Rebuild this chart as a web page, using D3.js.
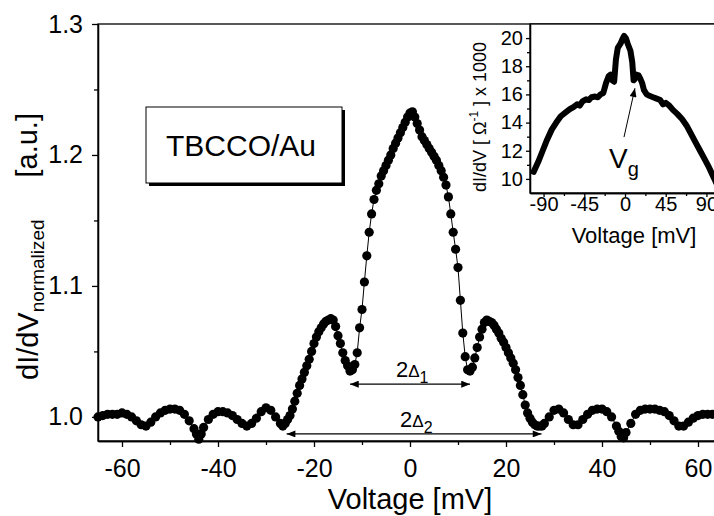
<!DOCTYPE html>
<html>
<head>
<meta charset="utf-8">
<script src="https://cdn.jsdelivr.net/npm/d3@7"></script>
<style>
  body { margin: 0; background: #fff; }
  svg { display: block; font-family: "Liberation Sans", Arial, sans-serif; }
</style>
</head>
<body>
<div id="chart"></div>
<script>
// main curve: normalized dI/dV vs voltage (mV)
const mainVoltage = [
  -65, -64, -63, -62, -61, -60, -59, -58, -57, -56, -55, -54, -53, -52, -51, -50,
  -49, -48, -47, -46, -45, -44.5, -44, -43.5, -43, -42, -41, -40, -39, -38, -37, -36,
  -35, -34, -33, -32, -31, -30, -29, -28,
  -27, -26.5, -26, -25.5, -25, -24.5, -24, -23.5, -23, -22.5, -22, -21.5, -21, -20.5,
  -20, -19.5, -19, -18.5, -18, -17.5, -17, -16.5, -16, -15.5, -15, -14.5, -14, -13.5,
  -13, -12.5, -12, -11.5, -11, -10.5, -10, -9.5, -9, -8.5, -8, -7.5, -7, -6.5,
  -6, -5.5, -5, -4.5, -4, -3.5, -3, -2.5, -2, -1.5, -1, -0.5, 0, 0.5,
  1, 1.5, 2, 2.5, 3, 3.5, 4, 4.5, 5, 5.5, 6, 6.5, 7, 7.5,
  8, 8.5, 9, 9.5, 10, 10.5, 11, 11.5, 12, 12.5, 13, 13.5, 14, 14.5,
  15, 15.5, 16, 16.5, 17, 17.5, 18, 18.5, 19, 19.5, 20, 20.5, 21, 21.5,
  22, 22.5, 23, 23.5, 24, 24.5, 25, 25.5, 26, 26.5, 27, 27.5,
  28, 29, 30, 31, 32, 33, 34, 35, 36, 37, 38, 39, 40, 41, 42, 43, 43.5,
  44, 44.5, 45, 46, 47, 48, 49, 50, 51, 52, 53, 54, 55, 56, 57, 58,
  59, 60, 61, 62, 63, 64, 65
];
const mainDidv = [
  1.000, 1.001, 1.002, 1.002, 1.002, 1.003, 1.002, 1.000, 0.997, 0.994, 0.993, 0.996, 1.000, 1.003, 1.005, 1.006,
  1.006, 1.005, 1.002, 0.997, 0.991, 0.987, 0.983, 0.987, 0.992, 0.998, 1.002, 1.004, 1.004, 1.003, 1.001, 0.998,
  0.995, 0.993, 0.995, 0.999, 1.004, 1.007, 1.005, 1.000,
  0.995, 0.993, 0.995, 0.998, 1.001, 1.006, 1.012, 1.018, 1.024, 1.029, 1.034, 1.039, 1.044, 1.050,
  1.056, 1.061, 1.065, 1.068, 1.071, 1.073, 1.074, 1.075, 1.074, 1.069, 1.062, 1.056, 1.049, 1.043,
  1.039, 1.035, 1.036, 1.040, 1.049, 1.068, 1.082, 1.103, 1.123, 1.141, 1.155, 1.166, 1.173, 1.178,
  1.184, 1.188, 1.192, 1.196, 1.200, 1.205, 1.209, 1.213, 1.217, 1.221, 1.225, 1.229, 1.232, 1.233,
  1.229, 1.224, 1.219, 1.214, 1.211, 1.208, 1.205, 1.202, 1.199, 1.196, 1.192, 1.188, 1.183, 1.177,
  1.168, 1.155, 1.141, 1.128, 1.114, 1.089, 1.064, 1.046, 1.036, 1.035, 1.038, 1.045, 1.053, 1.061,
  1.067, 1.072, 1.074, 1.073, 1.072, 1.070, 1.067, 1.064, 1.060, 1.057, 1.053, 1.049, 1.045, 1.041,
  1.036, 1.030, 1.024, 1.017, 1.009, 1.003, 0.999, 0.996, 0.994, 0.993, 0.993, 0.993,
  0.995, 1.000, 1.005, 1.006, 1.003, 0.998, 0.994, 0.994, 0.998, 1.002, 1.005, 1.006, 1.006, 1.004, 1.000, 0.993, 0.989,
  0.985, 0.984, 0.988, 0.995, 1.002, 1.005, 1.006, 1.006, 1.006, 1.005, 1.004, 1.001, 0.997, 0.993, 0.993, 0.996,
  0.999, 1.001, 1.002, 1.002, 1.002, 1.002, 1.002
];
const xTicks = [-60, -40, -20, 0, 20, 40, 60];
const xMinorTicks = [-50, -30, -10, 10, 30, 50];
const yTicks = [1.0, 1.1, 1.2, 1.3];
const yMinorTicks = [1.05, 1.15, 1.25];

// gap arrows (mV ends, level in normalized units)
const gapArrows = [
  {name: "1", from: -12.5, to: 12.5, level: 1.025},
  {name: "2", from: -25.7, to: 27.4, level: 0.987}
];

// inset: raw dI/dV x 1000 (1/Ohm) vs voltage
const insetVoltage = [
  -101, -96, -91, -86, -81, -76, -71, -66, -61, -57, -53, -50, -47, -43, -40, -37,
  -33, -30, -27, -24, -21, -18, -16, -14, -12, -10, -8, -5, -3, -1, 1, 3,
  6, 8, 9.5, 11, 13, 15, 17, 19, 21, 24, 27, 31, 35, 39, 42, 45,
  49, 53, 58, 63, 68, 73, 78, 83, 88, 93, 98, 101
];
const insetDidv = [
  10.5, 11.2, 12.0, 12.8, 13.5, 14.0, 14.45, 14.7, 14.95, 15.1, 15.3, 15.2, 15.5, 15.65, 15.6, 15.8,
  15.85, 15.8, 16.0, 16.1, 16.8, 17.3, 17.4, 17.0, 16.9, 18.5, 19.3, 19.6, 19.9, 20.15, 20.0, 19.6,
  19.1, 18.3, 17.0, 17.1, 17.4, 17.35, 17.1, 16.8, 16.3, 16.0, 15.9, 15.8, 15.7, 15.6, 15.3, 15.4,
  15.2, 14.9, 14.6, 14.25, 13.8, 13.2, 12.6, 12.0, 11.4, 10.8, 10.1, 9.7
];
const insetXTicks = [-90, -45, 0, 45, 90];
const insetXMinorTicks = [-67.5, -22.5, 22.5, 67.5];
const insetYTicks = [10, 12, 14, 16, 18, 20];
const insetYMinorTicks = [11, 13, 15, 17, 19];

const W = 714, H = 516;
const plain = d => String(d);   // hyphen minus, like the original plot

const svg = d3.select("#chart").append("svg")
    .attr("width", W)
    .attr("height", H);

const defs = svg.append("defs");
defs.append("marker")
    .attr("id", "head")
    .attr("viewBox", "0 0 10 8")
    .attr("refX", 10).attr("refY", 4)
    .attr("markerWidth", 10).attr("markerHeight", 7)
    .attr("markerUnits", "userSpaceOnUse")
    .attr("orient", "auto-start-reverse")
  .append("path")
    .attr("d", "M0,0 L10,4 L0,8 Z")
    .attr("fill", "#000");

// ---- main plot ----
const x = d3.scaleLinear().domain([-65, 65]).range([98, 722]);
const y = d3.scaleLinear().domain([0.9816, 1.3]).range([441, 24]);

const mainData = mainVoltage.map((v, i) => ({v: v, g: mainDidv[i]}));

function styleAxis(g) {
    g.selectAll("path").attr("stroke", "#000").attr("stroke-width", 1.3);
    g.selectAll("line").attr("stroke", "#000").attr("stroke-width", 1.3);
    g.selectAll("text").attr("fill", "#000");
}

// frame
svg.append("rect")
    .attr("x", x(-65)).attr("y", y(1.3))
    .attr("width", x(65) - x(-65)).attr("height", y(0.9816) - y(1.3))
    .attr("fill", "none").attr("stroke", "#000").attr("stroke-width", 1.3);

svg.append("g")
    .attr("transform", `translate(0,${y(0.9816)})`)
    .call(d3.axisBottom(x).tickValues(xTicks).tickSize(6).tickPadding(12).tickSizeOuter(0).tickFormat(plain))
    .call(g => g.attr("font-size", 25).attr("font-family", null))
    .call(styleAxis);
svg.append("g")
    .attr("transform", `translate(0,${y(0.9816)})`)
    .call(d3.axisBottom(x).tickValues(xMinorTicks).tickSize(4).tickFormat("").tickSizeOuter(0))
    .call(styleAxis);

svg.append("g")
    .attr("transform", `translate(${x(-65)},0)`)
    .call(d3.axisLeft(y).tickValues(yTicks).tickSize(6).tickPadding(9).tickSizeOuter(0).tickFormat(d3.format(".1f")))
    .call(g => g.attr("font-size", 25).attr("font-family", null))
    .call(styleAxis);
svg.append("g")
    .attr("transform", `translate(${x(-65)},0)`)
    .call(d3.axisLeft(y).tickValues(yMinorTicks).tickSize(4).tickFormat("").tickSizeOuter(0))
    .call(styleAxis);

// axis titles
svg.append("text")
    .attr("x", x(0)).attr("y", 509)
    .attr("text-anchor", "middle")
    .attr("font-size", 29)
    .text("Voltage [mV]");

const yTitle = svg.append("text")
    .attr("transform", "translate(38,380) rotate(-90)")
    .attr("font-size", 29);
yTitle.append("tspan").text("dI/dV");
yTitle.append("tspan").attr("font-size", 19).attr("dy", 6).text("normalized");
svg.append("text")
    .attr("transform", "translate(37,113) rotate(-90)")
    .attr("text-anchor", "end")
    .attr("font-size", 29)
    .text("[a.u.]");

// data: thin connecting line + dots
svg.append("path")
    .datum(mainData)
    .attr("fill", "none")
    .attr("stroke", "#000")
    .attr("stroke-width", 1)
    .attr("d", d3.line().x(d => x(d.v)).y(d => y(d.g)));

svg.selectAll(".dot")
    .data(mainData)
  .enter().append("circle")
    .attr("class", "dot")
    .attr("cx", d => x(d.v))
    .attr("cy", d => y(d.g))
    .attr("r", 4.6)
    .attr("fill", "#000");

// gap arrows with labels
gapArrows.forEach(a => {
    svg.append("line")
        .attr("x1", x(a.from)).attr("x2", x(a.to))
        .attr("y1", y(a.level)).attr("y2", y(a.level))
        .attr("stroke", "#000").attr("stroke-width", 1.2)
        .attr("marker-start", "url(#head)")
        .attr("marker-end", "url(#head)");
    const lbl = svg.append("text")
        .attr("x", x((a.from + a.to) / 2) - 14)
        .attr("y", y(a.level) - 7)
        .attr("font-size", 22);
    lbl.append("tspan").text("2");
    lbl.append("tspan").attr("font-size", 17).text("\u0394");
    lbl.append("tspan").attr("font-size", 16).attr("dy", 6).text(a.name);
});

// sample label box with shadow
svg.append("rect")
    .attr("x", 149).attr("y", 110).attr("width", 196).attr("height", 76)
    .attr("fill", "#000");
svg.append("rect")
    .attr("x", 146).attr("y", 107).attr("width", 196).attr("height", 76)
    .attr("fill", "#fff").attr("stroke", "#000").attr("stroke-width", 1);
svg.append("text")
    .attr("x", 166).attr("y", 156)
    .attr("font-size", 30)
    .text("TBCCO/Au");

// ---- inset ----
const ix = d3.scaleLinear().domain([-105, 105]).range([530, 720]);
const iy = d3.scaleLinear().domain([9, 21]).range([193, 24]);
const insetData = insetVoltage.map((v, i) => ({v: v, g: insetDidv[i]}));

svg.append("rect")
    .attr("x", ix(-105)).attr("y", iy(21))
    .attr("width", ix(105) - ix(-105)).attr("height", iy(9) - iy(21))
    .attr("fill", "#fff").attr("stroke", "#000").attr("stroke-width", 1.3);

svg.append("g")
    .attr("transform", `translate(0,${iy(9)})`)
    .call(d3.axisBottom(ix).tickValues(insetXTicks).tickSize(4).tickPadding(0).tickSizeOuter(0).tickFormat(plain))
    .call(g => g.attr("font-size", 20).attr("font-family", null))
    .call(styleAxis);
svg.append("g")
    .attr("transform", `translate(0,${iy(9)})`)
    .call(d3.axisBottom(ix).tickValues(insetXMinorTicks).tickSize(3).tickFormat("").tickSizeOuter(0))
    .call(styleAxis);
svg.append("g")
    .attr("transform", `translate(${ix(-105)},0)`)
    .call(d3.axisLeft(iy).tickValues(insetYTicks).tickSize(4).tickPadding(3).tickSizeOuter(0))
    .call(g => g.attr("font-size", 20).attr("font-family", null))
    .call(styleAxis);
svg.append("g")
    .attr("transform", `translate(${ix(-105)},0)`)
    .call(d3.axisLeft(iy).tickValues(insetYMinorTicks).tickSize(3).tickFormat("").tickSizeOuter(0))
    .call(styleAxis);

svg.append("path")
    .datum(insetData)
    .attr("fill", "none")
    .attr("stroke", "#000")
    .attr("stroke-width", 6)
    .attr("stroke-linejoin", "round")
    .attr("stroke-linecap", "round")
    .attr("d", d3.line().x(d => ix(d.v)).y(d => iy(d.g)));

svg.append("text")
    .attr("x", 634).attr("y", 243)
    .attr("text-anchor", "middle")
    .attr("font-size", 22)
    .text("Voltage [mV]");

const iyTitle = svg.append("text")
    .attr("transform", "translate(486,117) rotate(-90)")
    .attr("text-anchor", "middle")
    .attr("font-size", 18);
iyTitle.append("tspan").text("dI/dV [ \u03A9");
iyTitle.append("tspan").attr("font-size", 12).attr("dy", -8).text("-1");
iyTitle.append("tspan").attr("dy", 8).text(" ] x 1000");

// V_g marker
svg.append("line")
    .attr("x1", ix(-1.1)).attr("y1", iy(12.97))
    .attr("x2", ix(11)).attr("y2", iy(16.44))
    .attr("stroke", "#000").attr("stroke-width", 1)
    .attr("marker-end", "url(#head)");
const vg = svg.append("text")
    .attr("x", 609).attr("y", 168)
    .attr("font-size", 28);
vg.append("tspan").text("V");
vg.append("tspan").attr("font-size", 20).attr("dy", 8).text("g");
</script>
</body>
</html>
